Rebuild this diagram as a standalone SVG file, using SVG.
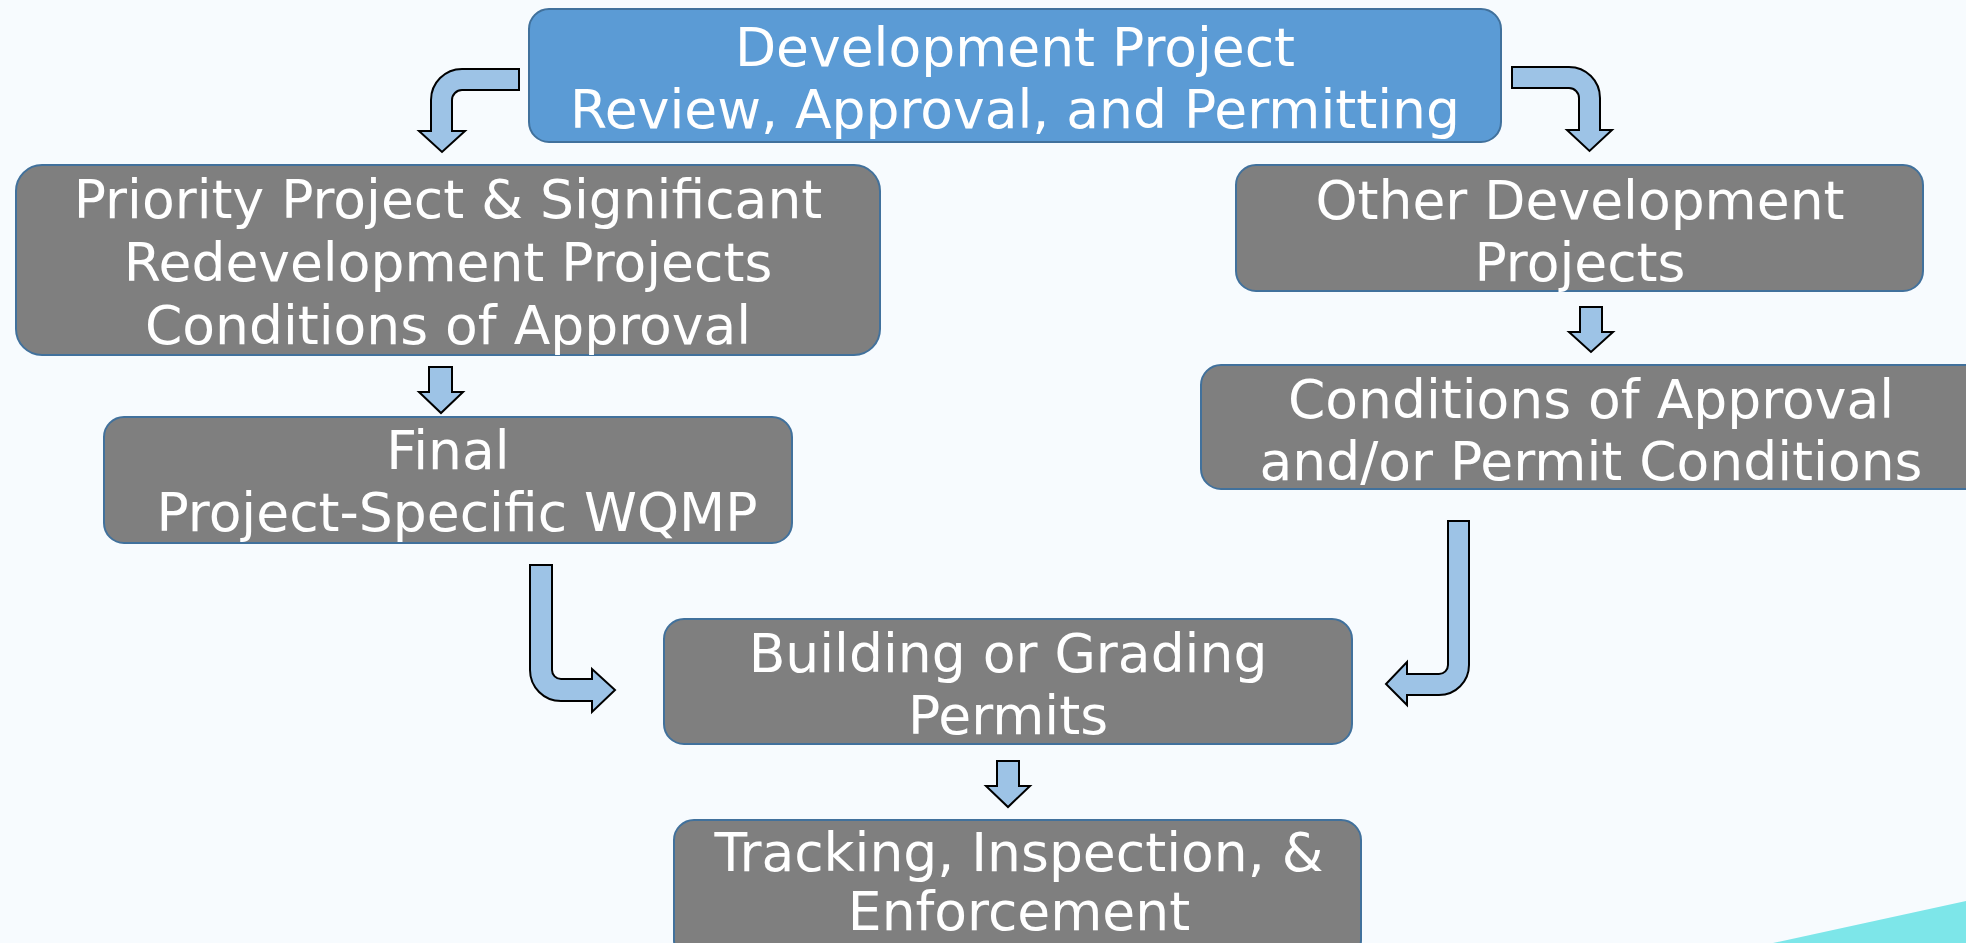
<svg xmlns="http://www.w3.org/2000/svg" width="1966" height="943" viewBox="0 0 1966 943">
  <style>
    .box { fill: #7F7F7F; stroke: #41719C; stroke-width: 2; }
    .box.main { fill: #5B9BD5; }
    .label { font-family: "DejaVu Sans", Verdana, sans-serif; font-size: 53.5px; fill: #FFFFFF; text-anchor: middle; }
    .arrow { fill: #9DC3E6; stroke: #000000; stroke-width: 2; stroke-linejoin: miter; }
  </style>

  <!-- page background and corner accent -->
  <rect x="0" y="0" width="1966" height="943" fill="#F7FBFE"/>
  <polygon points="1773,943 1966,901 1966,943" fill="#7DE6E9"/>

  <g id="connectors">
    <!-- top box to left branch -->
    <path class="arrow" d="M519,69 H462 A31,31 0 0 0 431,100 V131 H419 L442,152 L465,131 H452 V100 A10,10 0 0 1 462,90 H519 Z"/>
    <!-- top box to right branch -->
    <path class="arrow" d="M1512,67 H1569 A31,31 0 0 1 1600,98 V130 H1612 L1589.5,151 L1567,130 H1579 V98 A10,10 0 0 0 1569,88 H1512 Z"/>
    <!-- priority projects to final WQMP -->
    <path class="arrow" d="M429,367 H452 V392 H463 L441,413 L419,392 H429 Z"/>
    <!-- other projects to conditions -->
    <path class="arrow" d="M1580,307 H1602 V332 H1613 L1591,352 L1569,332 H1580 Z"/>
    <!-- permits to tracking -->
    <path class="arrow" d="M997,761 H1019 V786 H1030 L1008,807 L986,786 H997 Z"/>
    <!-- final WQMP to permits -->
    <path class="arrow" d="M530,565 H552 V670 A9,9 0 0 0 561,679 H592 V669 L615,690 L592,712 V701 H561 A31,31 0 0 1 530,670 Z"/>
    <!-- conditions to permits -->
    <path class="arrow" d="M1448,521 H1469 V665 A30,30 0 0 1 1439,695 H1407 V705 L1386,684 L1407,662 V674 H1439 A9,9 0 0 0 1448,665 Z"/>
  </g>

  <g id="node-review">
    <rect class="box main" x="529" y="9" width="972" height="133" rx="20"/>
    <text class="label" x="1015" y="66">Development Project</text>
    <text class="label" x="1015" y="128">Review, Approval, and Permitting</text>
  </g>

  <g id="node-priority">
    <rect class="box" x="16" y="165" width="864" height="190" rx="26"/>
    <text class="label" x="448" y="218">Priority Project &amp; Significant</text>
    <text class="label" x="448" y="281">Redevelopment Projects</text>
    <text class="label" x="448" y="344">Conditions of Approval</text>
  </g>

  <g id="node-other">
    <rect class="box" x="1236" y="165" width="687" height="126" rx="20"/>
    <text class="label" x="1580" y="219">Other Development</text>
    <text class="label" x="1580" y="281">Projects</text>
  </g>

  <g id="node-conditions">
    <rect class="box" x="1201" y="365" width="790" height="124" rx="20"/>
    <text class="label" x="1591" y="418">Conditions of Approval</text>
    <text class="label" x="1591" y="480">and/or Permit Conditions</text>
  </g>

  <g id="node-wqmp">
    <rect class="box" x="104" y="417" width="688" height="126" rx="20"/>
    <text class="label" x="448" y="469">Final</text>
    <text class="label" x="457" y="531">Project-Specific WQMP</text>
  </g>

  <g id="node-permits">
    <rect class="box" x="664" y="619" width="688" height="125" rx="20"/>
    <text class="label" x="1008" y="672">Building or Grading</text>
    <text class="label" x="1008" y="734">Permits</text>
  </g>

  <g id="node-tracking">
    <rect class="box" x="674" y="820" width="687" height="140" rx="20"/>
    <text class="label" x="1019" y="871">Tracking, Inspection, &amp;</text>
    <text class="label" x="1019" y="930">Enforcement</text>
  </g>
</svg>
